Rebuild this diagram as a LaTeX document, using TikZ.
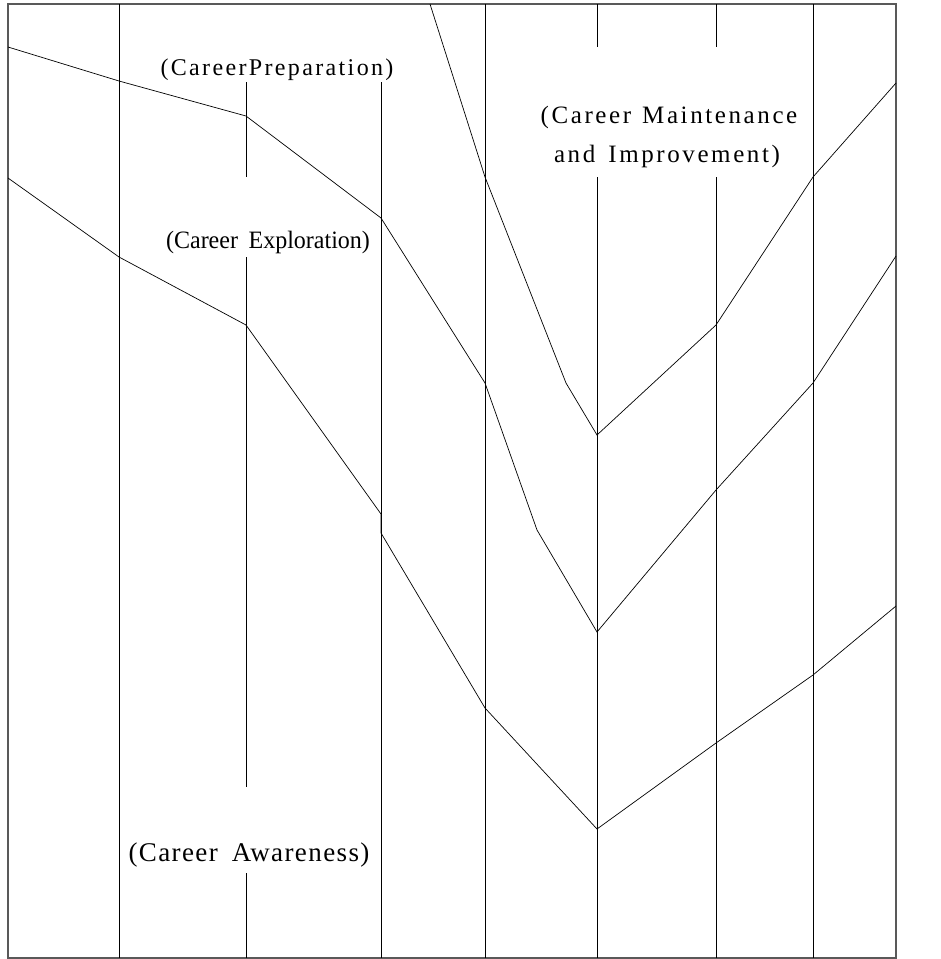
\documentclass[tikz,border=0pt]{standalone}
\usepackage{fontspec}
\setmainfont{Liberation Serif}
\begin{document}
\begin{tikzpicture}[x=1pt,y=-1pt,
  frameline/.style={draw=black!65,line width=1.1pt},
  vline/.style={draw=black,line width=0.9pt},
  curve/.style={draw=black,line width=0.7pt,line join=miter},
  lab/.style={anchor=base,inner sep=0pt,text=black}]
\useasboundingbox (0,0) rectangle (941,959);
% frame
\draw[frameline] (8,4) rectangle (896,958);
% vertical lines
\draw[vline] (119,4) -- (119,958);
\draw[vline] (246,82) -- (246,177) (246,257) -- (246,787) (246,873) -- (246,958);
\draw[vline] (381,82) -- (381,958);
\draw[vline] (485,4) -- (485,958);
\draw[vline] (597,4) -- (597,47) (597,177) -- (597,958);
\draw[vline] (716,4) -- (716,47) (716,177) -- (716,958);
\draw[vline] (813,4) -- (813,958);
% curves
\draw[curve] (430,4) -- (485,177) -- (566,383) -- (597,435) -- (716,325) -- (813,177) -- (896,83);
\draw[curve] (8,47) -- (119,81) -- (246,116) -- (381,218) -- (485,383) -- (537,530) -- (597,632) -- (716,490) -- (813,383) -- (896,256);
\draw[curve] (8,178) -- (119,257) -- (246,325) -- (381,514) -- (381,533) -- (485,708) -- (597,829) -- (716,743) -- (813,675) -- (896,606);
% labels
\node[lab] (prep) at (277,75) {\fontsize{24}{28}\selectfont\addfontfeature{LetterSpace=9.8}(CareerPreparation)};
\node[lab] (expl) at (268,248) {\scalebox{0.96}[1]{\fontsize{25}{30}\selectfont(Career\hspace{11pt}Exploration)}};
\node[lab] (maint1) at (669,123) {\fontsize{25}{30}\selectfont\addfontfeature{LetterSpace=10.4}(Career\hspace{11pt}Maintenance};
\node[lab] (maint2) at (667,162) {\fontsize{25}{30}\selectfont\addfontfeature{LetterSpace=10.4}and\hspace{13pt}Improvement)};
\node[lab] (aware) at (249,861) {\fontsize{27}{31}\selectfont\addfontfeature{LetterSpace=5.2}(Career\hspace{14pt}Awareness)};
\end{tikzpicture}
\end{document}
